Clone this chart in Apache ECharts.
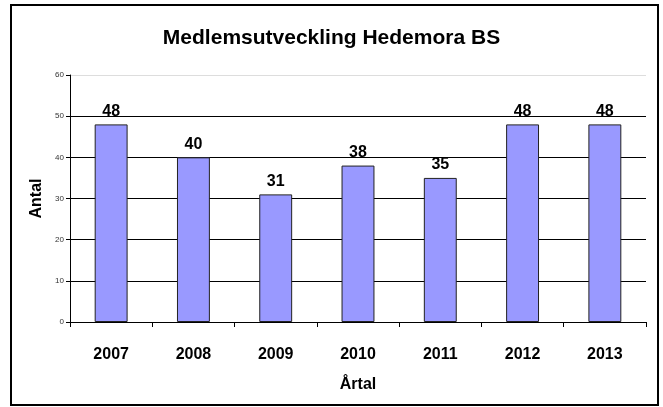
<!DOCTYPE html>
<html>
<head>
<meta charset="utf-8">
<script src="https://cdn.jsdelivr.net/npm/echarts@6/dist/echarts.min.js"></script>
<style>
  html, body { margin: 0; padding: 0; background: #fff; }
  #chart { width: 663px; height: 407px; }
</style>
</head>
<body>
<div id="chart"></div>
<script>
const years = ['2007', '2008', '2009', '2010', '2011', '2012', '2013']
const members = [48, 40, 31, 38, 35, 48, 48]
const yTicks = [0, 10, 20, 30, 40, 50, 60]

const font = 'Arial, "Liberation Sans", sans-serif'
const chart = echarts.init(document.getElementById('chart'))

const option = {
  animation: false,
  title: {
    text: 'Medlemsutveckling Hedemora BS',
    left: 'center',
    top: 23,
    textStyle: { fontFamily: font, fontSize: 21, fontWeight: 'bold', color: '#000' }
  },
  graphic: [{
    type: 'rect',
    shape: { x: 11, y: 5, width: 647, height: 400 },
    style: { fill: 'none', stroke: '#000', lineWidth: 2 }
  }],
  grid: { left: 70, right: 17, top: 75, bottom: 85 },
  xAxis: {
    type: 'category',
    data: years,
    name: 'Årtal',
    nameLocation: 'middle',
    nameGap: 55,
    nameTextStyle: { fontFamily: font, fontSize: 16, fontWeight: 'bold', color: '#000' },
    axisLine: { lineStyle: { color: '#000', width: 1 } },
    axisTick: { show: true, alignWithLabel: false, length: 5, lineStyle: { color: '#000' } },
    axisLabel: { fontFamily: font, fontSize: 16, fontWeight: 'bold', color: '#000', margin: 25 }
  },
  yAxis: {
    type: 'value',
    min: yTicks[0],
    max: yTicks[yTicks.length - 1],
    interval: 10,
    name: 'Antal',
    nameLocation: 'middle',
    nameGap: 24,
    nameTextStyle: { fontFamily: font, fontSize: 16, fontWeight: 'bold', color: '#000' },
    axisLine: { show: true, lineStyle: { color: '#000', width: 1 } },
    axisTick: { show: true, length: 4, lineStyle: { color: '#000' } },
    axisLabel: { fontFamily: font, fontSize: 8, color: '#333', margin: 6 },
    splitLine: {
      show: true,
      lineStyle: { color: ['#000', '#000', '#000', '#000', '#000', '#000', '#ddd'], width: 1 }
    }
  },
  series: [{
    type: 'bar',
    data: members,
    barWidth: '40%',
    itemStyle: { color: '#9999FF', borderColor: '#222', borderWidth: 1 },
    label: {
      show: true,
      position: 'top',
      distance: 5,
      fontFamily: font,
      fontSize: 16,
      fontWeight: 'bold',
      color: '#000'
    }
  }]
}

chart.setOption(option)
</script>
</body>
</html>
